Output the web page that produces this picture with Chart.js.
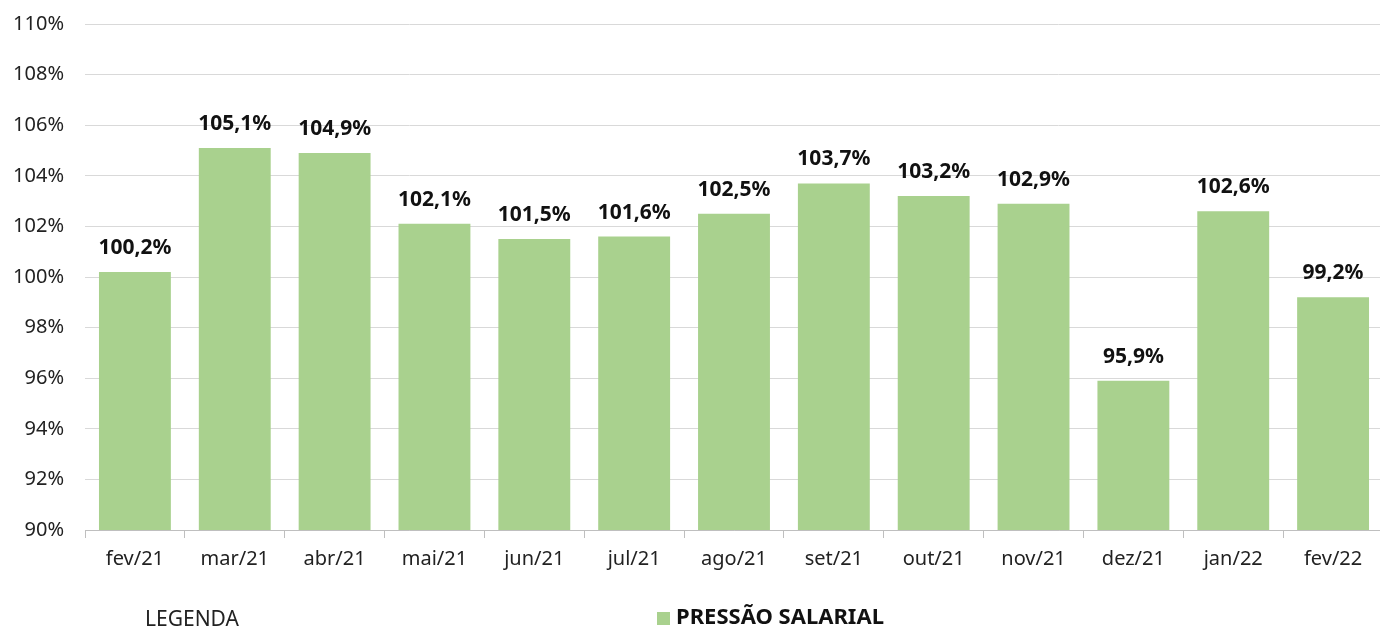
<!DOCTYPE html>
<html lang="pt">
<head>
<meta charset="utf-8">
<title>Pressão salarial</title>
<script src="https://cdn.jsdelivr.net/npm/chart.js@4"></script>
<style>
  html, body { margin: 0; padding: 0; background: #fff; overflow: hidden; }
  #wrap { width: 1380px; height: 628px; position: relative; overflow: hidden; }
</style>
</head>
<body>
<div id="wrap"><canvas id="chart" width="1383" height="628"></canvas></div>
<script>
// dados
const categorias = ['fev/21', 'mar/21', 'abr/21', 'mai/21', 'jun/21', 'jul/21', 'ago/21',
                    'set/21', 'out/21', 'nov/21', 'dez/21', 'jan/22', 'fev/22'];
const pressaoSalarial = [100.2, 105.1, 104.9, 102.1, 101.5, 101.6, 102.5, 103.7, 103.2, 102.9, 95.9, 102.6, 99.2];
const serieNome = 'PRESSÃO SALARIAL';
const legendaTitulo = 'LEGENDA';
const yMin = 90, yMax = 110, yPasso = 2;

const FONTE = '"Noto Sans", "Open Sans", sans-serif';
const VERDE = '#a9d18e';

function fmt(v) {
    return v.toFixed(1).replace('.', ',') + '%';
}

// rótulos em cima das barras
const rotulosPlugin = {
    id: 'rotulos',
    afterDatasetsDraw(chart) {
        const ctx = chart.ctx;
        const meta = chart.getDatasetMeta(0);
        ctx.save();
        ctx.font = 'bold 21px ' + FONTE;
        ctx.fillStyle = '#111';
        ctx.textAlign = 'center';
        ctx.textBaseline = 'middle';
        meta.data.forEach((bar, i) => {
            ctx.fillText(fmt(pressaoSalarial[i]), bar.x, bar.y - 24);
        });
        ctx.restore();
    }
};

// legenda desenhada à mão (posição do original)
const legendaPlugin = {
    id: 'legendaManual',
    afterDraw(chart) {
        const ctx = chart.ctx;
        ctx.save();
        ctx.textBaseline = 'middle';
        ctx.fillStyle = '#222';
        ctx.font = '21px ' + FONTE;
        ctx.textAlign = 'left';
        ctx.fillText(legendaTitulo, 145, 620);

        ctx.fillStyle = VERDE;
        ctx.fillRect(657, 612, 13, 13);
        ctx.fillStyle = '#111';
        ctx.font = 'bold 22px ' + FONTE;
        ctx.fillText(chart.data.datasets[0].label, 676, 618);
        ctx.restore();
    }
};

const ctx = document.getElementById('chart').getContext('2d');
new Chart(ctx, {
    type: 'bar',
    data: {
        labels: categorias,
        datasets: [{
            label: serieNome,
            data: pressaoSalarial,
            backgroundColor: VERDE,
            borderWidth: 0,
            categoryPercentage: 1,
            barPercentage: 0.72
        }]
    },
    options: {
        responsive: false,
        animation: false,
        layout: { padding: { top: 24, right: 0, bottom: 0, left: 0 } },
        plugins: {
            legend: { display: false },
            tooltip: { enabled: false }
        },
        scales: {
            x: {
                offset: true,
                grid: {
                    offset: true,
                    drawOnChartArea: false,
                    drawTicks: true,
                    tickLength: 8,
                    color: '#bfbfbf'
                },
                border: { display: true, color: '#bfbfbf' },
                ticks: {
                    color: '#222',
                    font: { family: FONTE, size: 20 },
                    padding: 9,
                    maxRotation: 0
                },
                afterFit(scale) {
                    scale.height = 98;
                    scale.paddingLeft = 0;
                    scale.paddingRight = 0;
                }
            },
            y: {
                min: yMin,
                max: yMax,
                grid: { color: '#d9d9d9', drawTicks: false },
                border: { display: false },
                ticks: {
                    stepSize: yPasso,
                    color: '#222',
                    padding: 21,
                    font: { family: FONTE, size: 20 },
                    callback: v => v + '%'
                },
                afterFit(scale) {
                    scale.width = 85;
                    scale.paddingTop = 0;
                    scale.paddingBottom = 0;
                }
            }
        }
    },
    plugins: [rotulosPlugin, legendaPlugin]
});
</script>
</body>
</html>
